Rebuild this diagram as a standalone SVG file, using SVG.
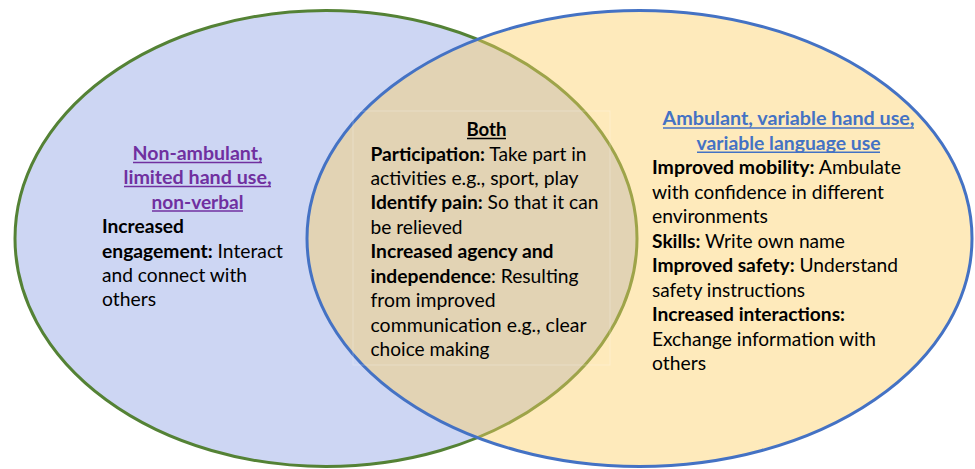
<svg xmlns="http://www.w3.org/2000/svg" width="975" height="469" viewBox="0 0 975 469">
<style>
  text { font-family: Lato, "Open Sans", "Liberation Sans", sans-serif; font-size: 19px; fill: #000; }
  .b { font-weight: bold; }
  .h { font-weight: bold; text-anchor: middle; }
  .purple { fill: #7030A0; }
  .blue { fill: #4472C4; }
  .ul { stroke-width: 1.5; }
</style>
<rect x="0" y="0" width="975" height="469" fill="#ffffff"/>
<g id="set-left">
  <ellipse cx="326" cy="238.5" rx="311" ry="228" fill="#CDD6F3" stroke="#548235" stroke-width="3"/>
</g>
<g id="set-right">
  <ellipse cx="639.5" cy="238.5" rx="332.5" ry="228" fill="#FDCF64" fill-opacity="0.44" stroke="#4472C4" stroke-width="3"/>
</g>
<g id="connectors"/>
<g id="node-left">
  <text class="h purple" x="197.5" y="160" textLength="130" lengthAdjust="spacingAndGlyphs">Non-ambulant,</text>
  <text class="h purple" x="197.5" y="184" textLength="148" lengthAdjust="spacingAndGlyphs">limited hand use,</text>
  <text class="h purple" x="197.5" y="208.5" textLength="92" lengthAdjust="spacingAndGlyphs">non-verbal</text>
  <line class="ul" x1="133" y1="162.5" x2="262" y2="162.5" stroke="#7030A0"/>
  <line class="ul" x1="124" y1="186.5" x2="271" y2="186.5" stroke="#7030A0"/>
  <line class="ul" x1="152" y1="211" x2="243" y2="211" stroke="#7030A0"/>
  <text class="b" x="102" y="233" textLength="82" lengthAdjust="spacingAndGlyphs">Increased</text>
  <text x="102" y="257.5" textLength="181" lengthAdjust="spacingAndGlyphs"><tspan class="b">engagement:</tspan> Interact</text>
  <text x="102" y="282" textLength="145" lengthAdjust="spacingAndGlyphs">and connect with</text>
  <text x="102" y="306" textLength="54" lengthAdjust="spacingAndGlyphs">others</text>
</g>
<g id="node-both">
  <rect x="353" y="111" width="257" height="254" fill="none" stroke="#ffffff" stroke-opacity="0.25" stroke-width="1"/>
  <text class="h" x="486.5" y="136" textLength="40" lengthAdjust="spacingAndGlyphs">Both</text>
  <line class="ul" x1="467" y1="138.5" x2="506" y2="138.5" stroke="#000"/>
  <text x="370.5" y="160.5" textLength="216" lengthAdjust="spacingAndGlyphs"><tspan class="b">Participation:</tspan> Take part in</text>
  <text x="370.5" y="184.9" textLength="208" lengthAdjust="spacingAndGlyphs">activities e.g., sport, play</text>
  <text x="370.5" y="209.4" textLength="228" lengthAdjust="spacingAndGlyphs"><tspan class="b">Identify pain:</tspan> So that it can</text>
  <text x="370.5" y="233.8" textLength="92" lengthAdjust="spacingAndGlyphs">be relieved</text>
  <text class="b" x="370.5" y="258.3" textLength="183" lengthAdjust="spacingAndGlyphs">Increased agency and</text>
  <text x="370.5" y="282.7" textLength="208" lengthAdjust="spacingAndGlyphs"><tspan class="b">independence</tspan>: Resulting</text>
  <text x="370.5" y="307.2" textLength="125" lengthAdjust="spacingAndGlyphs">from improved</text>
  <text x="370.5" y="331.6" textLength="216" lengthAdjust="spacingAndGlyphs">communication e.g., clear</text>
  <text x="370.5" y="356" textLength="119" lengthAdjust="spacingAndGlyphs">choice making</text>
</g>
<g id="node-right">
  <text class="h blue" x="788.5" y="125" textLength="252" lengthAdjust="spacingAndGlyphs">Ambulant, variable hand use,</text>
  <text class="h blue" x="788.5" y="149.5" textLength="184" lengthAdjust="spacingAndGlyphs">variable language use</text>
  <line class="ul" x1="663" y1="128" x2="914" y2="128" stroke="#4472C4"/>
  <line class="ul" x1="697" y1="152.3" x2="880" y2="152.3" stroke="#4472C4"/>
  <text x="652" y="174" textLength="249" lengthAdjust="spacingAndGlyphs"><tspan class="b">Improved mobility:</tspan> Ambulate</text>
  <text x="652" y="198.5" textLength="232" lengthAdjust="spacingAndGlyphs">with confidence in different</text>
  <text x="652" y="223" textLength="116" lengthAdjust="spacingAndGlyphs">environments</text>
  <text x="652" y="247.5" textLength="193" lengthAdjust="spacingAndGlyphs"><tspan class="b">Skills:</tspan> Write own name</text>
  <text x="652" y="272" textLength="246" lengthAdjust="spacingAndGlyphs"><tspan class="b">Improved safety:</tspan> Understand</text>
  <text x="652" y="296.5" textLength="153" lengthAdjust="spacingAndGlyphs">safety instructions</text>
  <text class="b" x="652" y="321" textLength="193" lengthAdjust="spacingAndGlyphs">Increased interactions:</text>
  <text x="652" y="345.5" textLength="224" lengthAdjust="spacingAndGlyphs">Exchange information with</text>
  <text x="652" y="370" textLength="54" lengthAdjust="spacingAndGlyphs">others</text>
</g>
</svg>
